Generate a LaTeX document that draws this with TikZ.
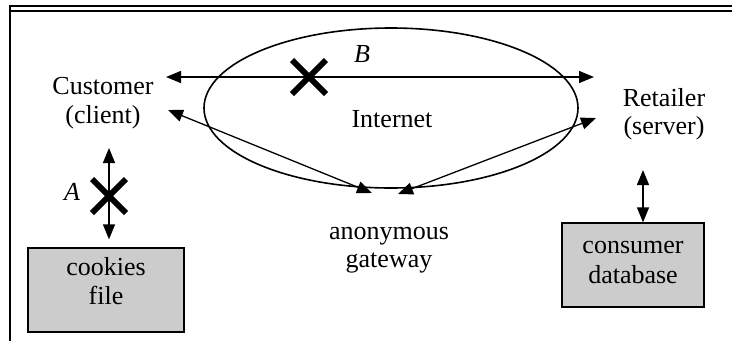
\documentclass[tikz,border=0pt]{standalone}
\usepackage{fontspec}
\setmainfont{Liberation Serif}
\usetikzlibrary{arrows.meta,shapes.geometric,shapes.misc}

\tikzset{
  lbl/.style={inner sep=0pt, align=center, font=\fontsize{26}{28.5}\selectfont},
  storebox/.style={draw=black, line width=1.3pt, fill=black!20, inner sep=0pt},
  link/.style={line width=1.3pt, {Triangle[length=15pt,width=12pt]}-{Triangle[length=15pt,width=12pt]}},
  blocked/.style={cross out, draw=black, line width=6pt, minimum size=28pt, inner sep=0pt},
  frameline/.style={line width=2.6pt},
}

\begin{document}
\begin{tikzpicture}[x=1pt, y=-1pt]
\useasboundingbox (0,0) rectangle (732,341);

% page frame: double rule on top, single rule on the left
\draw[frameline] (9,6) -- (732,6);
\draw[line width=2pt] (11,11) -- (732,11);
\draw[frameline] (10,5) -- (10,341);

% the Internet
\node[ellipse, draw, line width=1.6pt, minimum width=374pt, minimum height=160pt, inner sep=0pt] (net) at (391,108) {};
\node[lbl, anchor=base] (nettext) at (392,127) {Internet};

% parties
\node[lbl] (cust) at (103,103) {Customer\\(client)};
\node[lbl] (ret) at (664,114) {Retailer\\(server)};
\node[lbl] (gw) at (389,250) {anonymous\\gateway};

% stores
\node[storebox, minimum width=156pt, minimum height=84pt] (cookies) at (106,290) {};
\node[lbl] (cookiestext) at (106,281) {cookies\\file};
\node[storebox, minimum width=142pt, minimum height=84pt] (db) at (633,265) {};
\node[lbl, font=\fontsize{26}{30}\selectfont] (dbtext) at (633,262) {consumer\\database};

% connector end points
\coordinate (custB) at (166,77);
\coordinate (retB) at (594,77);
\coordinate (custG) at (168,110);
\coordinate (gwL) at (372,193);
\coordinate (retG) at (596,118);
\coordinate (gwR) at (398,194);
\coordinate (custA) at (109,148);
\coordinate (cookA) at (cookies.north -| custA);
\coordinate (retD) at (643,170);
\coordinate (dbD) at (db.north -| retD);

% connectors
\draw[link] (custB) -- (retB);
\draw[link] (custG) -- (gwL);
\draw[link] (retG) -- (gwR);
\draw[link] (custA) -- ([yshift=8pt]cookA);
\draw[link] (retD) -- (dbD);

% blocked channels
\node[blocked] (xB) at (309,77) {};
\node[blocked] (xA) at (109,196) {};
\node[lbl, anchor=base, font=\fontsize{26}{28}\selectfont\itshape] (labB) at (362,62) {B};
\node[lbl, anchor=base, font=\fontsize{26}{28}\selectfont\itshape] (labA) at (72,200) {A};
\end{tikzpicture}
\end{document}
